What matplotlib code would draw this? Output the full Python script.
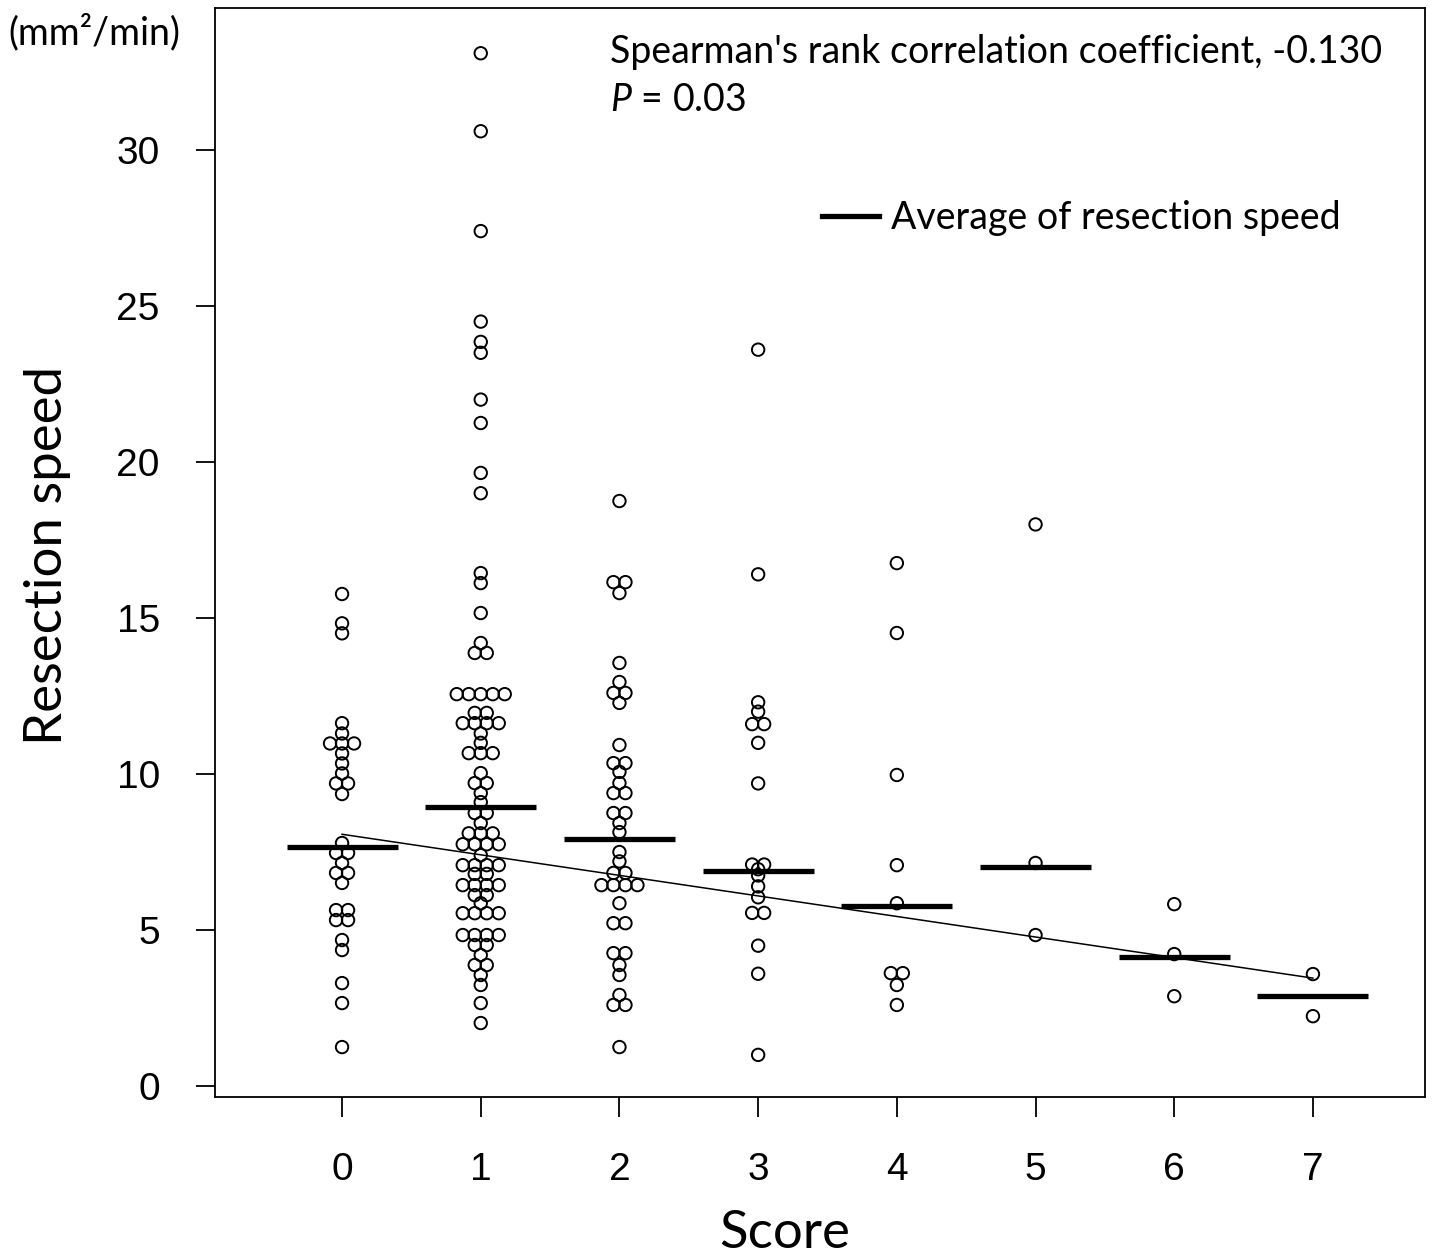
import numpy as np
import matplotlib
matplotlib.use("Agg")
import matplotlib.pyplot as plt
from matplotlib.lines import Line2D

plt.rcParams["mathtext.fontset"] = "custom"
plt.rcParams["mathtext.it"] = "Lato:italic"
plt.rcParams["mathtext.rm"] = "Lato"

# ---------------- data ----------------
scores = [0, 1, 2, 3, 4, 5, 6, 7]
score_labels = ["0", "1", "2", "3", "4", "5", "6", "7"]

speed_score0 = [15.77, 14.83, 14.51, 11.63, 11.3, 10.98, 10.98, 10.98, 10.66, 10.34,
                10.02, 9.7, 9.7, 9.36, 7.79, 7.47, 7.47, 7.15, 6.83, 6.83, 6.51,
                5.64, 5.64, 5.32, 5.32, 4.68, 4.36, 3.3, 2.66, 1.25]
speed_score1 = [33.1, 30.6, 27.4, 24.5, 23.85, 23.5, 22.0, 21.25, 19.65, 19.0,
                16.44, 16.12, 15.16, 14.2, 13.88, 13.88,
                12.56, 12.56, 12.56, 12.56, 12.56, 11.96, 11.96,
                11.63, 11.63, 11.63, 11.63, 11.3, 11.0, 10.67, 10.67, 10.67,
                10.03, 9.71, 9.71, 9.39, 9.1, 8.75, 8.75, 8.43, 8.1, 8.1, 8.1,
                7.75, 7.75, 7.75, 7.75, 7.4, 7.08, 7.08, 7.08, 7.08, 6.8, 6.8,
                6.44, 6.44, 6.44, 6.44, 6.12, 6.12, 5.86, 5.54, 5.54, 5.54, 5.54,
                4.84, 4.84, 4.84, 4.84, 4.52, 4.52, 4.2, 3.88, 3.88, 3.56, 3.24,
                2.66, 2.02]
speed_score2 = [18.75, 16.15, 16.15, 15.8, 13.56, 12.95, 12.6, 12.6, 12.28, 10.93,
                10.35, 10.35, 10.07, 9.71, 9.39, 9.39, 8.75, 8.75, 8.43, 8.14,
                7.5, 7.2, 6.83, 6.83, 6.44, 6.44, 6.44, 6.44, 5.86, 5.22, 5.22,
                4.26, 4.26, 3.88, 3.56, 2.92, 2.6, 2.6, 1.25]
speed_score3 = [23.6, 16.4, 12.3, 12.0, 11.6, 11.6, 11.0, 9.7, 7.1, 7.1, 6.95,
                6.75, 6.4, 6.05, 5.55, 5.55, 4.5, 3.6, 1.0]
speed_score4 = [16.76, 14.52, 9.97, 7.08, 5.86, 3.62, 3.62, 3.24, 2.6]
speed_score5 = [18.0, 7.15, 4.84]
speed_score6 = [5.83, 4.23, 2.88]
speed_score7 = [3.59, 2.24]
speed_by_score = [speed_score0, speed_score1, speed_score2, speed_score3,
                  speed_score4, speed_score5, speed_score6, speed_score7]

average_speed = [7.66, 8.94, 7.92, 6.89, 5.77, 7.02, 4.13, 2.88]

trend_scores = [0, 7]
trend_speed = [8.07, 3.46]

yticks = [0, 5, 10, 15, 20, 25, 30]

# ---------------- figure ----------------
W, H = 1432, 1260
fig = plt.figure(figsize=(W / 100, H / 100), dpi=100)
ax = fig.add_axes([215 / W, 1 - 1097 / H, 1210 / W, 1089 / H])
ax.set_xlim(-0.916, 7.808)
ax.set_ylim(-0.35, 34.55)

# beeswarm ("center") layout computed from the data through the axes transform
px_per_x = ax.transData.transform((1, 0))[0] - ax.transData.transform((0, 0))[0]
spacing = 12.0 / px_per_x
for s, vals in zip(scores, speed_by_score):
    uniq, counts = np.unique(np.asarray(vals), return_counts=True)
    xs, ys = [], []
    for u, c in zip(uniq, counts):
        offs = (np.arange(c) - (c - 1) / 2) * spacing
        xs.extend(s + offs)
        ys.extend([u] * c)
    ax.scatter(xs, ys, s=80, facecolors="none", edgecolors="black",
               linewidths=1.4, zorder=3)

# average bars
half = 0.4
ax.hlines(average_speed, np.array(scores) - half, np.array(scores) + half,
          colors="black", linewidth=3.8, zorder=4)

# trend line
ax.plot(trend_scores, trend_speed, color="black", linewidth=1.1, zorder=4)

# axes styling
ax.set_xticks(scores)
ax.set_xticklabels(score_labels)
ax.set_yticks(yticks)
ax.set_yticklabels([str(v) for v in yticks])
for sp in ax.spines.values():
    sp.set_linewidth(1.3)
ax.tick_params(axis="both", direction="out", width=1.3,
               labelsize=28, labelfontfamily="Liberation Sans")
ax.tick_params(axis="y", length=13.7, pad=26)
ax.tick_params(axis="x", length=14.4, pad=25)

# texts
txt_font = "Lato"
ax.text(0.3264, 0.9596, "Spearman's rank correlation coefficient, -0.130",
        transform=ax.transAxes, fontsize=27, family=txt_font,
        ha="left", va="center")
ax.text(0.3264, 0.9155, r"$P$ = 0.03", transform=ax.transAxes,
        fontsize=27, family=txt_font, ha="left", va="center")

leg = ax.legend([Line2D([], [], color="black", linewidth=3.8)],
                ["Average of resection speed"],
                loc="center left", bbox_to_anchor=(0.502, 0.807),
                frameon=False, borderpad=0, borderaxespad=0,
                handlelength=1.5, handletextpad=0.33,
                prop={"family": txt_font, "size": 27})

fig.text(8 / W, 1 - 32 / H, "(mm²/min)", fontsize=27, family=txt_font,
         ha="left", va="center")
fig.text(48 / W, 1 - 555 / H, "Resection speed", fontsize=38, family=txt_font,
         rotation=90, ha="center", va="center")
fig.text(785 / W, 1 - 1234 / H, "Score", fontsize=38, family=txt_font,
         ha="center", va="center")

fig.savefig("out.png", dpi=100)
